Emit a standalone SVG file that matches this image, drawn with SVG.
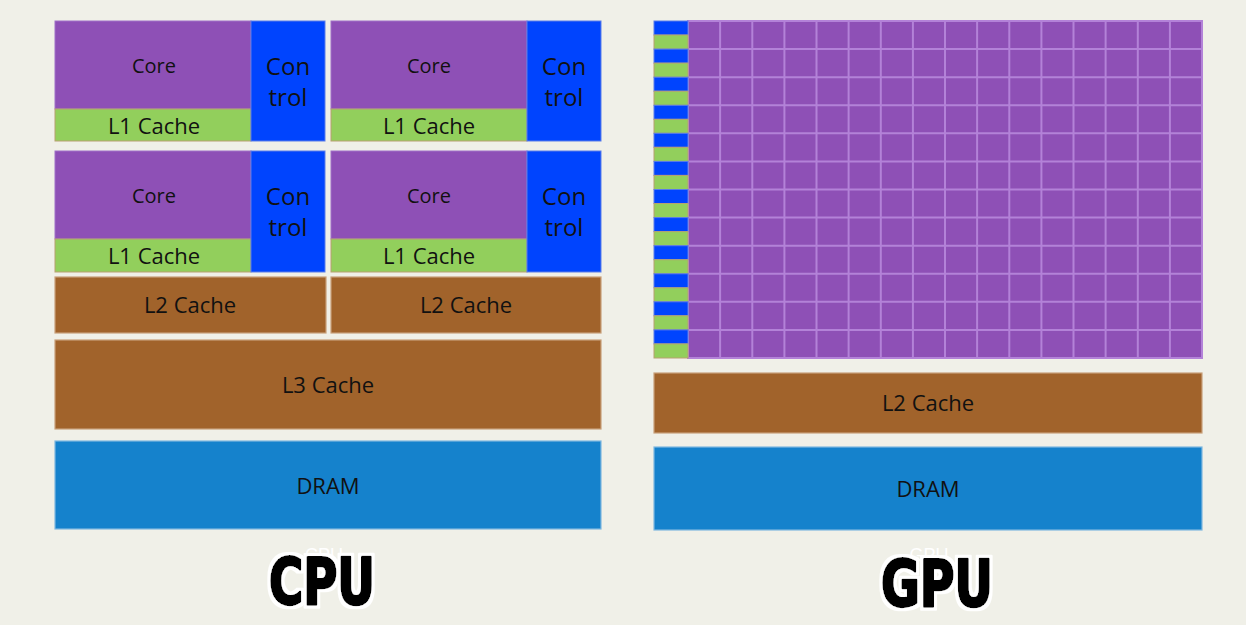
<svg xmlns="http://www.w3.org/2000/svg" width="1246" height="625" viewBox="0 0 1246 625">
<defs>
<filter id="halo" x="-20%" y="-20%" width="140%" height="140%">
<feMorphology in="SourceAlpha" operator="dilate" radius="3" result="d"/>
<feFlood flood-color="#ffffff"/>
<feComposite in2="d" operator="in" result="w"/>
<feMerge><feMergeNode in="w"/><feMergeNode in="SourceGraphic"/></feMerge>
</filter>
</defs>
<style>
.core{fill:#8e50b6;stroke:#a070c8;stroke-width:1}
.ctl{fill:#0044fe;stroke:#5a7ce8;stroke-width:1}
.l1{fill:#92cf5c;stroke:#b8a070;stroke-width:1}
.brown{fill:#a1632b;stroke:#c9a07a;stroke-width:1.2}
.dram{fill:#1582cc;stroke:#7fb8e0;stroke-width:1.2}
.t{font-family:"Open Sans","Noto Sans","Liberation Sans",sans-serif;fill:#111;text-anchor:middle}
.s20{font-size:20px}
.s22{font-size:22px}
.s24{font-size:24px}
.big{font-family:"DejaVu Sans Condensed","DejaVu Sans",sans-serif;font-weight:bold;font-stretch:condensed;font-size:64px;fill:#000;stroke:#000;stroke-width:2.5;stroke-linejoin:round;text-anchor:middle;filter:url(#halo)}
.ghost{font-family:"Liberation Sans",sans-serif;font-size:18px;fill:#ffffff;text-anchor:middle}
.grid{stroke:#b382d8;stroke-width:2;fill:none}
</style>
<rect width="1246" height="625" fill="#f0f0e8"/>

<g id="cpu-core-1">
<rect class="core" x="55" y="21" width="196" height="88"/>
<rect class="l1" x="55" y="109" width="196" height="32"/>
<rect class="ctl" x="251" y="21" width="74" height="120"/>
<text class="t s20" x="154" y="73">Core</text>
<text class="t s22" x="154" y="134">L1 Cache</text>
<text class="t s24" x="288" y="75">Con</text>
<text class="t s24" x="288" y="106">trol</text>
</g>
<g id="cpu-core-2">
<rect class="core" x="331" y="21" width="196" height="88"/>
<rect class="l1" x="331" y="109" width="196" height="32"/>
<rect class="ctl" x="527" y="21" width="74" height="120"/>
<text class="t s20" x="429" y="73">Core</text>
<text class="t s22" x="429" y="134">L1 Cache</text>
<text class="t s24" x="564" y="75">Con</text>
<text class="t s24" x="564" y="106">trol</text>
</g>
<g id="cpu-core-3">
<rect class="core" x="55" y="151" width="196" height="88"/>
<rect class="l1" x="55" y="239" width="196" height="33"/>
<rect class="ctl" x="251" y="151" width="74" height="121"/>
<text class="t s20" x="154" y="203">Core</text>
<text class="t s22" x="154" y="264">L1 Cache</text>
<text class="t s24" x="288" y="205">Con</text>
<text class="t s24" x="288" y="236">trol</text>
</g>
<g id="cpu-core-4">
<rect class="core" x="331" y="151" width="196" height="88"/>
<rect class="l1" x="331" y="239" width="196" height="33"/>
<rect class="ctl" x="527" y="151" width="74" height="121"/>
<text class="t s20" x="429" y="203">Core</text>
<text class="t s22" x="429" y="264">L1 Cache</text>
<text class="t s24" x="564" y="205">Con</text>
<text class="t s24" x="564" y="236">trol</text>
</g>
<g id="cpu-l2-left">
<rect class="brown" x="55" y="277" width="271" height="56"/>
<text class="t s22" x="190" y="313">L2 Cache</text>
</g>
<g id="cpu-l2-right">
<rect class="brown" x="331" y="277" width="270" height="56"/>
<text class="t s22" x="466" y="313">L2 Cache</text>
</g>
<g id="cpu-l3">
<rect class="brown" x="55" y="340" width="546" height="89"/>
<text class="t s22" x="328" y="393">L3 Cache</text>
</g>
<g id="cpu-dram">
<rect class="dram" x="55" y="441" width="546" height="88"/>
<text class="t s22" x="328" y="494">DRAM</text>
</g>
<g id="cpu-label">
<text class="ghost" x="324" y="561">CPU</text>
<text class="big" x="322" y="604" textLength="106" lengthAdjust="spacingAndGlyphs">CPU</text>
</g>

<g id="gpu-cores">
<rect x="688" y="21" width="514" height="337" fill="#8e50b6"/>
<path class="grid" d="M688,21H1202V358H688Z
M720.1,21V358M752.3,21V358M784.4,21V358M816.5,21V358M848.6,21V358M880.8,21V358M912.9,21V358M945,21V358M977.1,21V358M1009.3,21V358M1041.4,21V358M1073.5,21V358M1105.6,21V358M1137.8,21V358M1169.9,21V358
M688,49.1H1202M688,77.2H1202M688,105.3H1202M688,133.3H1202M688,161.4H1202M688,189.5H1202M688,217.6H1202M688,245.7H1202M688,273.8H1202M688,301.8H1202M688,329.9H1202"/>
</g>
<g id="gpu-control-cache">
<rect class="ctl" x="654" y="21" width="34" height="14"/><rect class="l1" x="654" y="35" width="34" height="14.1"/>
<rect class="ctl" x="654" y="49.1" width="34" height="14"/><rect class="l1" x="654" y="63.1" width="34" height="14.1"/>
<rect class="ctl" x="654" y="77.2" width="34" height="14"/><rect class="l1" x="654" y="91.2" width="34" height="14.1"/>
<rect class="ctl" x="654" y="105.3" width="34" height="14"/><rect class="l1" x="654" y="119.3" width="34" height="14"/>
<rect class="ctl" x="654" y="133.3" width="34" height="14"/><rect class="l1" x="654" y="147.3" width="34" height="14.1"/>
<rect class="ctl" x="654" y="161.4" width="34" height="14"/><rect class="l1" x="654" y="175.4" width="34" height="14.1"/>
<rect class="ctl" x="654" y="189.5" width="34" height="14"/><rect class="l1" x="654" y="203.5" width="34" height="14.1"/>
<rect class="ctl" x="654" y="217.6" width="34" height="14"/><rect class="l1" x="654" y="231.6" width="34" height="14.1"/>
<rect class="ctl" x="654" y="245.7" width="34" height="14"/><rect class="l1" x="654" y="259.7" width="34" height="14.1"/>
<rect class="ctl" x="654" y="273.8" width="34" height="14"/><rect class="l1" x="654" y="287.8" width="34" height="14"/>
<rect class="ctl" x="654" y="301.8" width="34" height="14"/><rect class="l1" x="654" y="315.8" width="34" height="14.1"/>
<rect class="ctl" x="654" y="329.9" width="34" height="14"/><rect class="l1" x="654" y="343.9" width="34" height="14.1"/>
</g>
<g id="gpu-l2">
<rect class="brown" x="654" y="373" width="548" height="60"/>
<text class="t s22" x="928" y="411">L2 Cache</text>
</g>
<g id="gpu-dram">
<rect class="dram" x="654" y="447" width="548" height="83"/>
<text class="t s22" x="928" y="497">DRAM</text>
</g>
<g id="gpu-label">
<text class="ghost" x="929" y="561">GPU</text>
<text class="big" x="937" y="606" textLength="112" lengthAdjust="spacingAndGlyphs">GPU</text>
</g>
</svg>
